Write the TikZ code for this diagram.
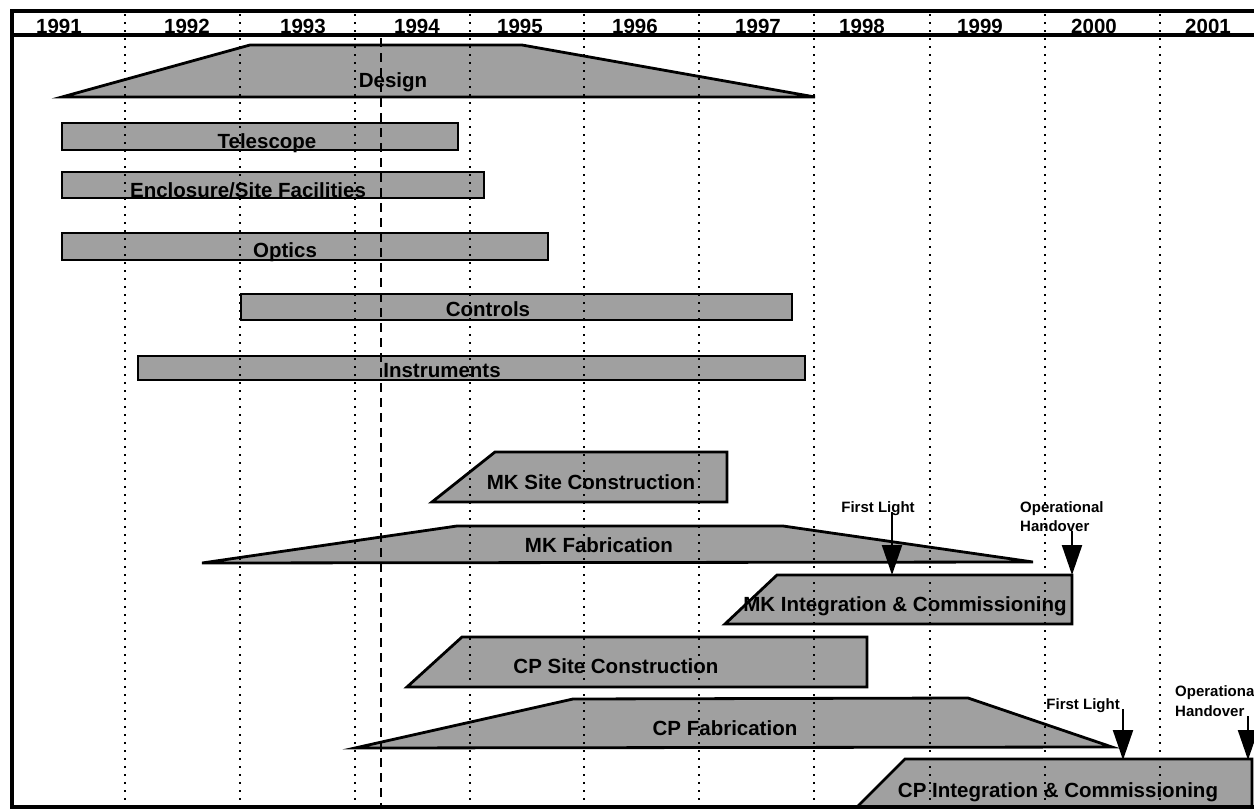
\documentclass[tikz,border=0pt]{standalone}
\usepackage{fontspec}
\setmainfont{Liberation Sans}
\usetikzlibrary{arrows.meta}
\definecolor{barfill}{RGB}{160,160,160}
\tikzset{
  bar/.style={draw=black, line width=2.8pt, fill=barfill, line join=miter},
  lbl/.style={font=\bfseries\fontsize{20.5}{22}\selectfont, inner sep=0pt, anchor=base},
  yr/.style={font=\bfseries\fontsize{20.5}{22}\selectfont, inner sep=0pt, anchor=base},
  small/.style={font=\bfseries\fontsize{15}{17}\selectfont, inner sep=0pt, anchor=base},
  gridline/.style={line width=2pt, dash pattern=on 2pt off 6pt},
  dashline/.style={line width=2.2pt, dash pattern=on 9pt off 6pt},
  frameline/.style={line width=4.5pt},
  ms/.style={line width=2.2pt, -{Triangle[width=20pt,length=30pt]}}
}
\begin{document}
\begin{tikzpicture}[x=1pt,y=-1pt]
\useasboundingbox (0,0) rectangle (1254,809);
\fill[white] (0,0) rectangle (1254,809);

% bars
\draw[bar] (62,97) -- (250,45) -- (522,45) -- (815,97) -- cycle;
\draw[bar] (62,123) rectangle (458,150);
\draw[bar] (62,172) rectangle (484,198);
\draw[bar] (62,233) rectangle (548,260);
\draw[bar] (241,294) rectangle (792,320);
\draw[bar] (138,356) rectangle (805,380);
\draw[bar] (432,502) -- (495,452) -- (727,452) -- (727,502) -- cycle;
\draw[bar] (202,563) -- (457,526) -- (783,526) -- (1033,562) -- cycle;
\draw[bar] (725,624) -- (777,575) -- (1072,575) -- (1072,624) -- cycle;
\draw[bar] (407,687) -- (462,637) -- (867,637) -- (867,687) -- cycle;
\draw[bar] (355,748) -- (573,699) -- (968,698) -- (1112,747) -- cycle;
\draw[bar] (857,807) -- (905,759) -- (1252,759) -- (1252,807) -- cycle;

% year grid
\foreach \x in {125,240,355,470,584,699,814,930,1045,1160}
  \draw[gridline] (\x,14) -- (\x,805);
\draw[dashline] (381,38) -- (381,805);

% frame
\draw[frameline] (12,11) -- (1254,11);
\draw[frameline] (12,9) -- (12,809);
\draw[frameline] (10,807) -- (1254,807);
\draw[line width=3.8pt] (12,35) -- (1254,35);

% years
\node[yr] (y1991) at (59,33) {1991};
\node[yr] (y1992) at (187,33) {1992};
\node[yr] (y1993) at (303,33) {1993};
\node[yr] (y1994) at (417,33) {1994};
\node[yr] (y1995) at (520,33) {1995};
\node[yr] (y1996) at (635,33) {1996};
\node[yr] (y1997) at (758,33) {1997};
\node[yr] (y1998) at (862,33) {1998};
\node[yr] (y1999) at (980,33) {1999};
\node[yr] (y2000) at (1094,33) {2000};
\node[yr] (y2001) at (1208,33) {2001};

% bar labels
\node[lbl] (design) at (393,87) {Design};
\node[lbl] (tel) at (267,148) {Telescope};
\node[lbl] (encl) at (248,197) {Enclosure/Site Facilities};
\node[lbl] (opt) at (285,257) {Optics};
\node[lbl] (ctrl) at (488,316) {Controls};
\node[lbl] (inst) at (442,377) {Instruments};
\node[lbl] (mksc) at (591,489) {MK Site Construction};
\node[lbl] (mkfab) at (599,552) {MK Fabrication};
\node[lbl] (mkic) at (905,611) {MK Integration \& Commissioning};
\node[lbl] (cpsc) at (616,673) {CP Site Construction};
\node[lbl] (cpfab) at (725,735) {CP Fabrication};
\node[lbl] (cpic) at (1058,797) {CP Integration \& Commissioning};

% milestones
\node[small] (mkfl) at (878,512) {First Light};
\node[small, anchor=base west] (mkop) at (1020,512) {Operational};
\node[small, anchor=base west] (mkho) at (1020,531) {Handover};
\node[small, anchor=base east] (cpfl) at (1120,709) {First Light};
\node[small, anchor=base west] (cpop) at (1175,696) {Operational};
\node[small, anchor=base west] (cpho) at (1175,716) {Handover};

\coordinate (mkflt) at (892,575);
\coordinate (mkhot) at (1072,575);
\coordinate (cpflt) at (1123,760);
\coordinate (cphot) at (1248,760);

\draw[ms] (mkfl.base -| mkflt) -- (mkflt);
\draw[ms] (mkho.south -| mkhot) -- (mkhot);
\draw[ms] (cpfl.base -| cpflt) -- (cpflt);
\draw[ms] (cpho.base -| cphot) -- (cphot);
\end{tikzpicture}
\end{document}
